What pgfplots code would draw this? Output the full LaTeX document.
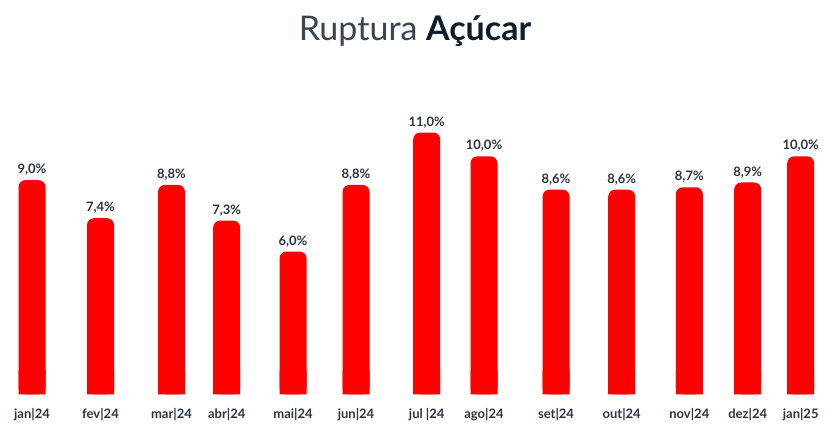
\documentclass[border=0pt]{standalone}
\usepackage{fontspec}
\setmainfont{Lato}
\usepackage{pgfplots}
\pgfplotsset{compat=1.18}
\usepackage{pgfplotstable}
\definecolor{barred}{HTML}{FF0000}
\definecolor{labtext}{HTML}{2B3440}
\definecolor{titlegray}{HTML}{3A4550}
\definecolor{titledark}{HTML}{0F1C2A}

% x = bar centre in pixels of the original, v = ruptura (%)
\pgfplotstableread{
x      v     lab
32     9.0   jan|24
100.5  7.4   fev|24
171.5  8.8   mar|24
226.7  7.3   abr|24
293    6.0   mai|24
356    8.8   jun|24
426.7  11.0  {jul |24}
484    10.0  ago|24
556    8.6   set|24
621.7  8.6   out|24
689.3  8.7   nov|24
747.7  8.9   dez|24
800.7  10.0  jan|25
}\datatable

\begin{document}
\begin{tikzpicture}
\begin{axis}[
  scale only axis,
  width=834pt, height=390pt,
  xmin=0, xmax=834,
  ymin=0, ymax=16.39,
  ybar, bar width=27pt, bar shift=0pt,
  axis line style={draw=none},
  tick style={draw=none},
  ytick=\empty,
  xtick=data,
  xticklabels from table={\datatable}{lab},
  xticklabel style={font=\bfseries\fontsize{13}{15}\selectfont, text=labtext, yshift=-6pt},
  clip=false,
]
\addplot[fill=barred, draw=none, rounded corners=7pt,
  nodes near coords={\pgfmathprintnumber{\pgfplotspointmeta}\%},
  nodes near coords style={font=\bfseries\fontsize{13}{15}\selectfont, text=labtext,
    anchor=south, yshift=1pt,
    /pgf/number format/.cd, fixed, fixed zerofill, precision=1, use comma,
    assume math mode=true},
] table[x=x, y=v] {\datatable};
\addplot[fill=barred, draw=none] table[x=x, y expr={min(\thisrow{v},1)}] {\datatable};
\node[font=\fontsize{34}{40}\selectfont, anchor=base] at (axis cs:415,14.85)
  {\textcolor{titlegray}{Ruptura} \textcolor{titledark}{\bfseries Açúcar}};
\end{axis}
\path (current axis.south west) ++(0,-42pt) (current axis.north east);
\end{tikzpicture}
\end{document}
